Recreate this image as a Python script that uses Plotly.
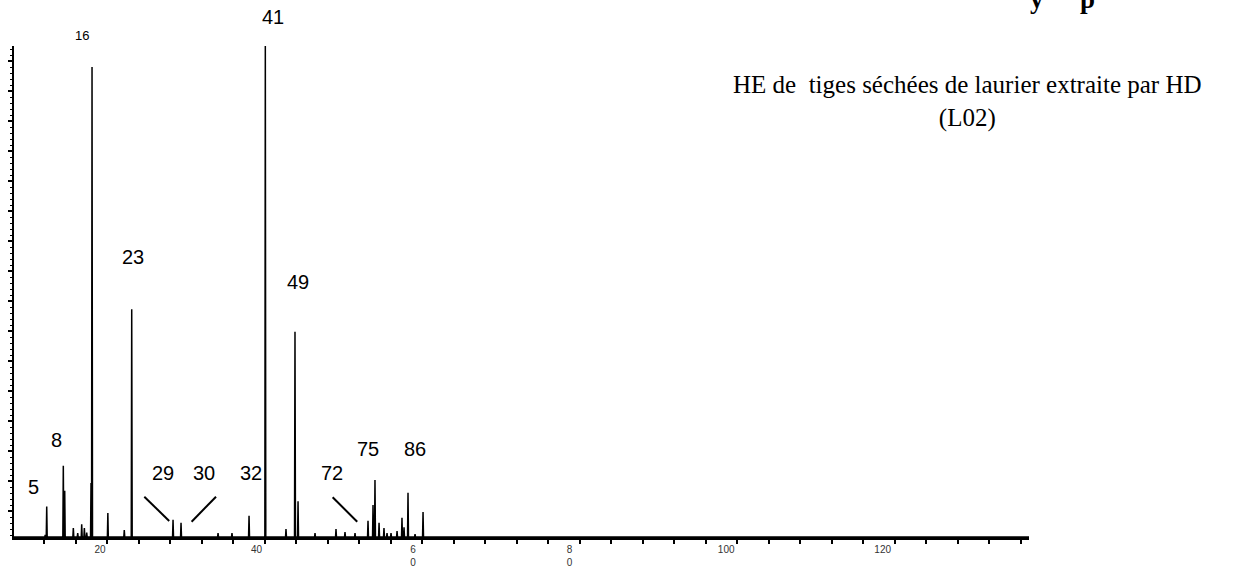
import plotly.graph_objects as go

# Chromatogram peaks: retention time (min) and relative abundance (% of largest peak)
retention_min = [13.00, 13.19, 15.31, 15.49, 16.59, 17.15, 17.66, 18.00, 18.30,
                 18.85, 18.98, 21.00, 23.10, 24.05, 29.33, 30.35, 35.08, 36.86,
                 39.04, 41.12, 43.76, 44.91, 45.30, 47.47, 50.15, 51.30, 52.58,
                 54.24, 54.88, 55.13, 55.65, 56.28, 56.67, 57.18, 57.95, 58.58,
                 58.84, 59.35, 60.25, 61.27]
abundance_pct = [0.4, 6.2, 14.5, 9.4, 1.8, 0.8, 2.6, 1.8, 0.9,
                 11.0, 95.7, 4.9, 1.4, 46.4, 3.5, 2.9, 0.8, 0.8,
                 4.3, 100.0, 1.6, 41.8, 7.3, 0.8, 1.6, 1.0, 0.8,
                 3.3, 6.5, 11.6, 2.9, 1.8, 0.8, 0.8, 1.2, 3.9,
                 2.0, 9.0, 0.6, 5.1]

# Peak numbers written on the chromatogram
peak_ids = ["5", "8", "16", "23", "29", "30", "32", "41", "49", "72", "75", "86"]

# Time-axis labels
time_ticks = [20, 40, 60, 80, 100, 120]
time_tick_text = ["20", "40", "6<br>0", "8<br>0", "100", "120"]

X_RANGE = [9.01, 138.69]
Y_RANGE = [0, 100]
HALF_WIDTH = 0.06

# Build the spike trace from the peak table
xs, ys = [X_RANGE[0]], [0]
for rt, h in zip(retention_min, abundance_pct):
    xs += [rt - HALF_WIDTH, rt, rt + HALF_WIDTH]
    ys += [0, h, 0]
xs.append(X_RANGE[1])
ys.append(0)

fig = go.Figure()
fig.add_trace(go.Scatter(x=xs, y=ys, mode="lines",
                         line=dict(color="black", width=1.5),
                         hoverinfo="skip", showlegend=False, cliponaxis=False))

# Label placement for each peak number (x in minutes, y as fraction of the frame height)
label_x = [11.47, 14.46, 17.74, 24.22, 28.09, 33.29, 39.25, 42.14, 45.34, 49.60, 54.28, 60.25]
label_y = [0.1012, 0.1976, 1.021, 0.570, 0.1297, 0.1297, 0.1297, 1.0597, 0.520, 0.1297, 0.1792, 0.1792]
label_size = [20, 20, 13, 20, 20, 20, 20, 20, 20, 20, 20, 20]

for pid, lx, ly, fs in zip(peak_ids, label_x, label_y, label_size):
    fig.add_annotation(x=lx, y=ly, xref="x", yref="paper", text=pid, showarrow=False,
                       font=dict(family="Liberation Sans, Arial", size=fs, color="black"),
                       xanchor="center", yanchor="middle")

# Leader strokes pointing to small peaks 29, 30 and 72
leaders = [(25.66, 8.21, 28.84, 3.26), (34.82, 8.21, 31.70, 3.12), (49.72, 8.09, 52.86, 3.12)]
for x0, y0, x1, y1 in leaders:
    fig.add_shape(type="line", xref="x", yref="y", x0=x0, y0=y0, x1=x1, y1=y1,
                  line=dict(color="black", width=2))

# Sample description
fig.add_annotation(xref="paper", yref="paper", x=0.9399, y=0.887,
                   text="HE de\u00a0 tiges séchées de laurier extraite par HD<br>(L02)",
                   showarrow=False, align="center", xanchor="center", yanchor="middle",
                   font=dict(family="Liberation Serif, Times New Roman", size=25, color="black"))

# Heading above the frame (only its lowest strokes fall inside the page)
for tx, txt in [(1.0079, "y"), (1.058, "p")]:
    fig.add_annotation(xref="paper", yref="paper", x=tx, y=1.062, text="<b>" + txt + "</b>",
                       showarrow=False, xanchor="center", yanchor="bottom",
                       font=dict(family="Liberation Serif, Times New Roman", size=27, color="black"))

fig.update_layout(
    width=1242, height=569,
    margin=dict(l=14, r=213, t=46, b=32),
    paper_bgcolor="white", plot_bgcolor="white",
    showlegend=False,
    xaxis=dict(range=X_RANGE, showgrid=False, zeroline=False, automargin=False,
               showline=True, linecolor="black", linewidth=2.5,
               tickmode="array", tickvals=time_ticks, ticktext=time_tick_text,
               ticks="", ticklabelstandoff=1,
               tickfont=dict(family="Liberation Sans, Arial", size=10, color="#333333"),
               minor=dict(ticks="outside", tick0=12.845, dtick=4.0245, ticklen=4,
                          tickwidth=1.5, tickcolor="black", showgrid=False)),
    yaxis=dict(range=Y_RANGE, showgrid=False, zeroline=False, automargin=False,
               showline=True, linecolor="black", linewidth=1.5,
               showticklabels=False,
               tickmode="linear", tick0=5.295, dtick=6.110,
               ticks="outside", ticklen=4, tickwidth=1.5, tickcolor="black",
               minor=dict(ticks="outside", tick0=5.295, dtick=1.222, ticklen=2.5,
                          tickwidth=1, tickcolor="black", showgrid=False)),
)

fig.write_html("out.html")
